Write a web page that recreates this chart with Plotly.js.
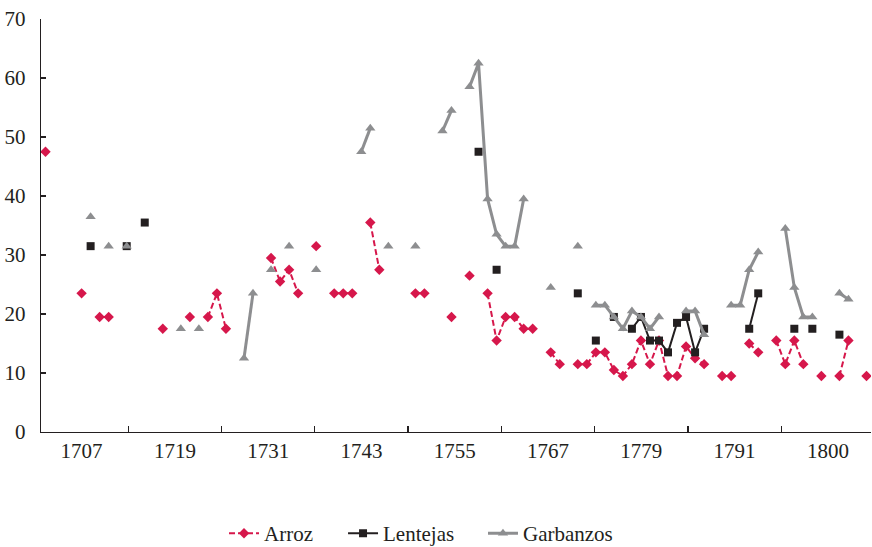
<!DOCTYPE html>
<html>
<head>
<meta charset="utf-8">
<script src="https://cdn.plot.ly/plotly-3.0.1.min.js"></script>
<style>html,body{margin:0;padding:0;background:#fff;}#chart{width:872px;height:547px;}</style>
</head>
<body>
<div id="chart"></div>
<script>
// Tick labels along the category axis
const tickLabels = ['1707','1719','1731','1743','1755','1767','1779','1791','1800'];

// Series values, one entry per observed period (null = no observation)
const arroz = [
  47.5,null,null,null,23.5,null,19.5,19.5,null,null,
  null,null,null,17.5,null,null,19.5,null,19.5,23.5,
  17.5,null,null,null,null,29.5,25.5,27.5,23.5,null,
  31.5,null,23.5,23.5,23.5,null,35.5,27.5,null,null,
  null,23.5,23.5,null,null,19.5,null,26.5,null,23.5,
  15.5,19.5,19.5,17.5,17.5,null,13.5,11.5,null,11.5,
  11.5,13.5,13.5,10.5,9.5,11.5,15.5,11.5,15.5,9.5,
  9.5,14.5,12.5,11.5,null,9.5,9.5,null,15,13.5,
  null,15.5,11.5,15.5,11.5,null,9.5,null,9.5,15.5,
  null,9.5
];
const lentejas = [
  null,null,null,null,null,31.5,null,null,null,31.5,
  null,35.5,null,null,null,null,null,null,null,null,
  null,null,null,null,null,null,null,null,null,null,
  null,null,null,null,null,null,null,null,null,null,
  null,null,null,null,null,null,null,null,47.5,null,
  27.5,null,null,null,null,null,null,null,null,23.5,
  null,15.5,null,19.5,null,17.5,19.5,15.5,15.5,13.5,
  18.5,19.5,13.5,17.5,null,null,null,null,17.5,23.5,
  null,null,null,17.5,null,17.5,null,null,16.5,null,
  null,null
];
const garbanzos = [
  null,null,null,null,null,36.5,null,31.5,null,31.5,
  null,null,null,null,null,17.5,null,17.5,null,null,
  null,null,12.5,23.5,null,27.5,null,31.5,null,null,
  27.5,null,null,null,null,47.5,51.5,null,31.5,null,
  null,31.5,null,null,51,54.5,null,58.5,62.5,39.5,
  33.5,31.5,31.5,39.5,null,null,24.5,null,null,31.5,
  null,21.5,21.5,19.5,17.5,20.5,19.5,17.5,19.5,null,
  null,20.5,20.5,16.5,null,null,21.5,21.5,27.5,30.5,
  null,null,34.5,24.5,19.5,19.5,null,null,23.5,22.5,
  null,null
];

// category positions (one per observed period)
const periods = arroz.map((_, i) => i);

// axis label layout (labels every ~10.34 periods, tick marks between them)
const labelStart = 4.0, labelStep = 10.34;
const labelPos = tickLabels.map((_, k) => labelStart + k * labelStep);

const TXT = '#231f20';
const FONT = 'Liberation Serif, Times New Roman, serif';
const FS = 21;

const traces = [
  {
    x: periods, y: arroz, name: 'Arroz', type: 'scatter', mode: 'lines+markers',
    connectgaps: false, legend: 'legend',
    line: {color: '#d6174b', width: 2, dash: '6px,3px'},
    marker: {symbol: 'diamond', size: 8, color: '#d6174b'}
  },
  {
    x: periods, y: lentejas, name: 'Lentejas', type: 'scatter', mode: 'lines+markers',
    connectgaps: false, legend: 'legend2',
    line: {color: TXT, width: 2},
    marker: {symbol: 'square', size: 8, color: TXT}
  },
  {
    x: periods, y: garbanzos, name: 'Garbanzos', type: 'scatter', mode: 'lines+markers',
    connectgaps: false, legend: 'legend3',
    line: {color: '#8d8e90', width: 3},
    marker: {symbol: 'triangle-up', size: 9, color: '#8d8e90'}
  }
];

function leg(x) {
  return {
    orientation: 'h', x: x, xanchor: 'left', y: -0.246, yanchor: 'middle',
    font: {family: FONT, size: FS, color: TXT}, bgcolor: 'rgba(0,0,0,0)', borderwidth: 0
  };
}

const layout = {
  width: 872, height: 547,
  margin: {l: 41, r: 1, t: 19, b: 115, autoexpand: false},
  paper_bgcolor: '#fff', plot_bgcolor: '#fff',
  font: {family: FONT, size: FS, color: TXT},
  showlegend: true,
  legend: leg(0.2205),
  legend2: leg(0.3639),
  legend3: leg(0.5325),
  xaxis: {
    range: [-0.5, 91.5], showgrid: false, zeroline: false,
    showline: true, linecolor: TXT, linewidth: 1.3,
    tickmode: 'array', tickvals: labelPos, ticktext: tickLabels, ticks: '',
    ticklabelstandoff: -1,
    tickfont: {family: FONT, size: FS, color: TXT},
    minor: {tick0: labelStart + labelStep / 2, dtick: labelStep, ticks: 'inside', ticklen: 6, tickwidth: 1.3, tickcolor: TXT, showgrid: false}
  },
  yaxis: {
    range: [0, 70], dtick: 10, showgrid: false, zeroline: false,
    showline: true, linecolor: TXT, linewidth: 1.3,
    ticks: 'inside', ticklen: 5, tickwidth: 1.3, tickcolor: TXT,
    ticklabelstandoff: 10,
    tickfont: {family: FONT, size: FS, color: TXT}
  }
};

Plotly.newPlot('chart', traces, layout, {displayModeBar: false, staticPlot: true});
</script>
</body>
</html>
